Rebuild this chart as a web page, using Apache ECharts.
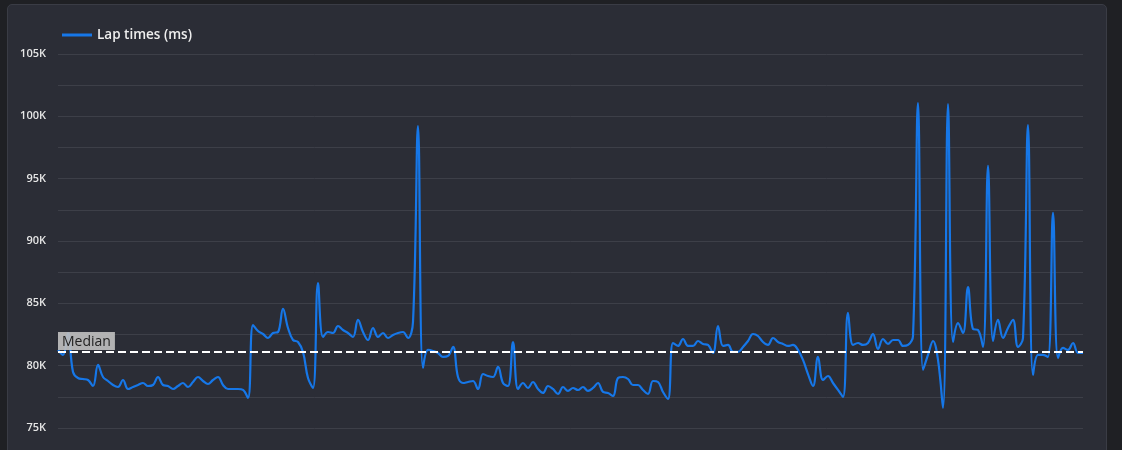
<!DOCTYPE html>
<html>
<head>
<meta charset="utf-8">
<script src="https://cdn.jsdelivr.net/npm/echarts@6/dist/echarts.min.js"></script>
<style>
  html, body { margin: 0; padding: 0; background: #1f2024; width: 1122px; height: 450px; overflow: hidden; }
  #panel { position: absolute; left: 7px; top: 4px; width: 1100px; height: 470px; background: #2b2d36; border: 1px solid #3a3c45; border-radius: 5px; box-sizing: border-box; }
  #chart { position: absolute; left: 0; top: 0; width: 1122px; height: 450px; }
</style>
</head>
<body>
<div id="panel"></div>
<div id="chart"></div>
<script>
const seriesName = 'Lap times (ms)';
const medianLabel = 'Median';
const medianValue = 81100;
const yTicks = [75000, 80000, 85000, 90000, 95000, 100000, 105000];
const lapTimes = [
  81260, 80860, 82620, 79500, 79010, 78930, 78850, 78370, 80060, 79090,
  78770, 78450, 78290, 78850, 78130, 78290, 78450, 78610, 78370, 78450,
  79090, 78450, 78370, 78130, 78370, 78610, 78290, 78690, 79090, 78770,
  78530, 78850, 79090, 78450, 78130, 78130, 78130, 78050, 77410, 83260,
  82780, 82540, 82220, 82620, 82700, 84550, 83020, 82060, 81900, 81100,
  79010, 78210, 86630, 82300, 82700, 82620, 83180, 82860, 82620, 82300,
  83670, 82700, 82060, 83020, 82300, 82620, 82220, 82460, 82620, 82700,
  82220, 83500, 99220, 79820, 81260, 81180, 81020, 80700, 80780, 81500,
  79090, 78610, 78690, 78770, 78130, 79330, 79170, 79090, 79900, 78610,
  78370, 81900, 78130, 78610, 78210, 78690, 78130, 77810, 78370, 78130,
  77730, 78290, 77970, 78210, 78050, 78290, 77970, 78210, 78610, 77890,
  77810, 77570, 79010, 79090, 78930, 78450, 78450, 78050, 77730, 78770,
  78690, 77890, 77330, 81820, 81580, 82140, 81580, 81580, 81980, 81740,
  81660, 81020, 83180, 81580, 81660, 81100, 81100, 81500, 81980, 82540,
  82380, 81900, 81660, 82220, 81900, 81740, 81580, 81660, 81260, 80460,
  79330, 78370, 80700, 78850, 79170, 78610, 78050, 77490, 84230, 81660,
  81820, 81660, 81820, 82540, 81340, 82140, 81740, 82060, 82060, 81580,
  81660, 82380, 101070, 79660, 80860, 81980, 80460, 76610, 100990, 81900,
  83420, 82620, 86310, 82940, 82860, 81500, 96020, 81980, 83670, 82220,
  83020, 83670, 81500, 82220, 99300, 79250, 80860, 80860, 80700, 92250,
  80620, 81420, 81260, 81820, 81020, 81020
];
const laps = lapTimes.map((_, i) => String(i + 1));

const chart = echarts.init(document.getElementById('chart'), null, { renderer: 'canvas' });
chart.setOption({
  backgroundColor: 'transparent',
  animation: false,
  textStyle: { fontFamily: 'Open Sans, Noto Sans, sans-serif' },
  legend: {
    left: 57,
    top: 23,
    icon: 'rect',
    itemWidth: 30,
    itemHeight: 3,
    itemGap: 8,
    textStyle: { color: '#eeeeee', fontSize: 13.5, fontWeight: 600, fontFamily: 'Open Sans, sans-serif' },
    data: [seriesName]
  },
  grid: { left: 58, right: 39, top: 54, bottom: 22, containLabel: false },
  xAxis: {
    type: 'category',
    data: laps,
    boundaryGap: false,
    show: false
  },
  yAxis: {
    type: 'value',
    min: yTicks[0],
    max: yTicks[yTicks.length - 1],
    interval: 2500,
    axisLine: { show: false },
    axisTick: { show: false },
    axisLabel: {
      color: '#e6e6e6',
      fontSize: 11,
      fontWeight: 600,
      margin: 12,
      formatter: v => yTicks.indexOf(v) >= 0 ? (v / 1000) + 'K' : ''
    },
    splitLine: { lineStyle: { color: '#3d3f48', width: 1 } }
  },
  series: [{
    name: seriesName,
    type: 'line',
    data: lapTimes,
    smooth: 0.4,
    symbol: 'none',
    showSymbol: false,
    lineStyle: { color: '#1677e8', width: 2.2 },
    itemStyle: { color: '#1677e8' },
    markLine: {
      silent: true,
      symbol: 'none',
      data: [{ yAxis: medianValue }],
      lineStyle: { color: '#ffffff', type: [8, 4], width: 2 },
      label: {
        show: true,
        formatter: medianLabel,
        position: 'insideStartTop',
        distance: [0, 2],
        color: '#222222',
        fontSize: 14,
        backgroundColor: 'rgba(190,190,190,0.92)',
        padding: [3, 4, 1, 4],
        fontFamily: 'Open Sans, sans-serif'
      }
    }
  }]
});
</script>
</body>
</html>
